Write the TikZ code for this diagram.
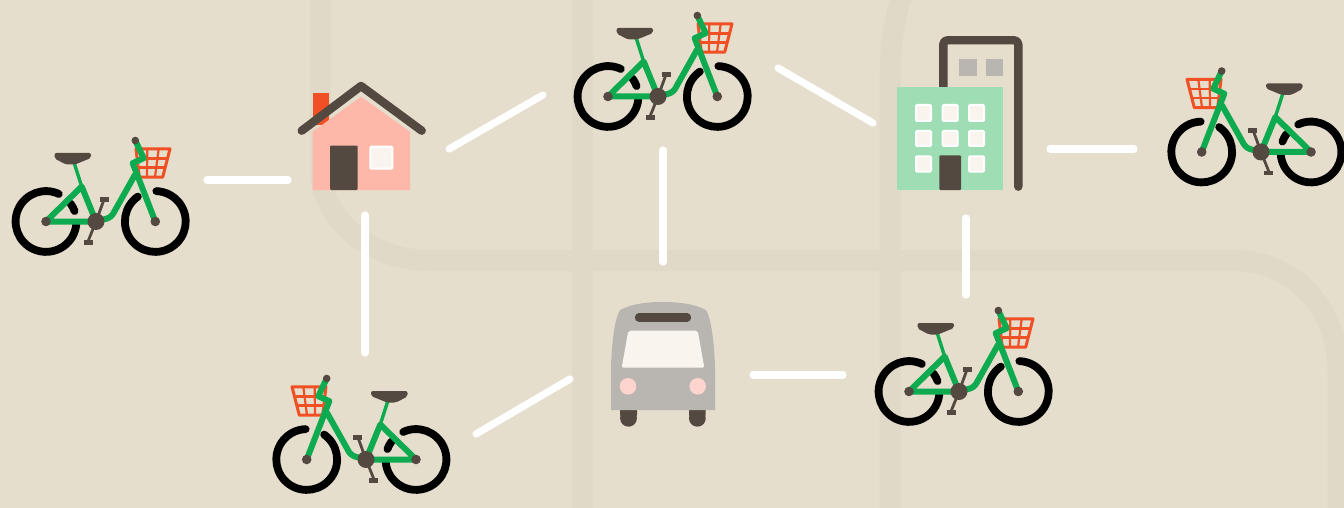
\documentclass[tikz,border=0pt]{standalone}
\usepackage{tikz}
\usetikzlibrary{positioning}
\definecolor{sandbg}{HTML}{E5DECC}
\definecolor{roadtone}{HTML}{E0D9C8}
\definecolor{framegreen}{HTML}{0DAA50}
\definecolor{darkbrown}{HTML}{534941}
\definecolor{redorange}{HTML}{F15025}
\definecolor{housepink}{HTML}{FDB8AA}
\definecolor{lamppink}{HTML}{FDD4CE}
\definecolor{mintgreen}{HTML}{9FDDB5}
\definecolor{busgray}{HTML}{B9B5B1}
\definecolor{creamy}{HTML}{F9F5EE}
\tikzset{
	roadline/.style={draw=roadtone, line width=10.5pt},
	linkline/.style={draw=white, line width=3.6pt, line cap=round},
	wheelline/.style={draw=black, line width=3.9pt, line cap=round},
	frameline/.style={draw=framegreen, line width=3pt, line join=round, line cap=round},
	basketline/.style={draw=redorange, line width=1.1pt},
	brownline/.style={draw=darkbrown, line width=4.2pt, line join=round, line cap=round},
	whitewindow/.style={fill=creamy, draw=white, line width=1pt, rounded corners=0.5pt}
}
\tikzset{
	bikeicon/.pic={
			% wheels
			\draw[wheelline] ([shift={(-50,0)}] -65:30.4) arc[start angle=-65, end angle=-354, radius=30.4];
			\draw[wheelline] ([shift={(-50,0)}] -36:30.4) arc[start angle=-36, end angle=-20, radius=30.4];
			\draw[wheelline] ([shift={(59.3,0)}] -125:30.4) arc[start angle=-125, end angle=-448, radius=30.4];
			% basket
			\draw[basketline, line width=1.5pt, line join=round] (40,-72.7) -- (74,-72.7) -- (66.7,-44.3) -- (43.3,-44.3) -- cycle;
			\draw[basketline] (41,-63) -- (71.5,-63);
			\draw[basketline] (42,-54) -- (69.2,-54);
			\draw[basketline] (51.3,-72.7) -- (51,-44.3);
			\draw[basketline] (62.7,-72.7) -- (59,-44.3);
			% pedals
			\draw[draw=darkbrown, line width=1.4pt] (8.3,-22.7) -- (0,0) -- (-8.3,20.7);
			\fill[darkbrown] (4,-24.3) rectangle (12.7,-19.3);
			\fill[darkbrown] (-12.3,18.7) rectangle (-3.3,23.3);
			% frame
			\draw[frameline, line width=1.7pt] (-14.3,-35) -- (-22.3,-60);
			\draw[frameline] (0,0) -- (-14.3,-35) -- (-50,0) -- cycle;
			\draw[frameline, rounded corners=2pt] (0,0) -- (15,-4) -- (39,-46.7);
			\draw[frameline] (59.3,0) -- (36.7,-58.3) -- (47.7,-63.3) -- (39.3,-81);
			% saddle, hubs
			\fill[darkbrown, rounded corners=1pt] (-41.5,-68.5) -- (-5,-68.5) -- (-5,-63.5) -- (-21,-57) -- (-30,-57) -- (-41.5,-63) -- cycle;
			\fill[darkbrown] (39.3,-81) circle[radius=3.8];
			\fill[darkbrown] (-50,0) circle[radius=4.8];
			\fill[darkbrown] (59.3,0) circle[radius=4.8];
			\fill[darkbrown] (0,0) circle[radius=8.5];
		}
}
\tikzset{
	houseicon/.pic={
			\fill[redorange] (-48.3,-46.7) rectangle (-32.3,-15);
			\fill[housepink] (-48.3,-8.3) -- (0,-43.3) -- (49,-8.3) -- (49,50) -- (-48.3,50) -- cycle;
			\draw[brownline] (-59.3,-9.3) -- (0,-54) -- (60.7,-9.3);
			\fill[darkbrown, rounded corners=0.5pt] (-31,5.7) rectangle (-3.3,50);
			\draw[whitewindow] (9.3,6.7) rectangle (31.3,28.7);
		}
}
\tikzset{
	officeicon/.pic={
			\draw[brownline, rounded corners=2pt] (-6.7,-28.3) -- (-6.7,-74.7) -- (68.3,-74.7) -- (68.3,71.7);
			\fill[busgray] (9.3,-56) rectangle (26.7,-38.7);
			\fill[busgray] (36,-56) rectangle (53.3,-38.7);
			\fill[mintgreen] (-52.7,-28.3) rectangle (53,75);
			\draw[whitewindow] (-34,-10) rectangle (-19,6);
			\draw[whitewindow] (-7.3,-10) rectangle (7.7,6);
			\draw[whitewindow] (19,-10) rectangle (34,6);
			\draw[whitewindow] (-34,16) rectangle (-19,31);
			\draw[whitewindow] (-7.3,16) rectangle (7.7,31);
			\draw[whitewindow] (19,16) rectangle (34,31);
			\draw[whitewindow] (-34,41.3) rectangle (-19,56.5);
			\draw[whitewindow] (19,41.3) rectangle (34,56.5);
			\fill[darkbrown, rounded corners=0.5pt] (-10.7,40.3) rectangle (11,75);
		}
}
\tikzset{
	busicon/.pic={
			\fill[darkbrown, rounded corners=3pt] (-43,45) rectangle (-26,60) ;
			\fill[darkbrown, rounded corners=3pt] (26,45) rectangle (42.7,60);
			\fill[darkbrown] (-34.5,58.3) circle[radius=8.4];
			\fill[darkbrown] (34.35,58.3) circle[radius=8.4];
			\fill[busgray] (-52,50) -- (-52,5) .. controls (-51,-15) and (-49,-40) .. (-43,-50)
			.. controls (-30,-57) and (-12,-58) .. (0,-58)
			.. controls (12,-58) and (30,-57) .. (43,-50)
			.. controls (49,-40) and (51,-15) .. (52,5) -- (52,50) -- cycle;
			\draw[brownline] (-24,-42.5) -- (24,-42.5);
			\fill[creamy, rounded corners=1pt] (-34.7,-29.3) -- (34.7,-29.3) -- (41.3,7.7) -- (-41.3,7.7) -- cycle;
			\fill[lamppink] (-35,26.3) circle[radius=8.3];
			\fill[lamppink] (34.7,26.3) circle[radius=8.3];
		}
}

\begin{document}
\begin{tikzpicture}[x=0.5pt, y=-0.5pt]

			\path[fill=sandbg, use as bounding box] (0,0) rectangle (1344,508);
			\clip (0,0) rectangle (1344,508);

			\begin{scope}
				\draw[roadline] (582,-10) -- (582,518);
				\draw[roadline] (890,518) -- (890,85) .. controls (890,50) and (893,20) .. (904,-10);
				\draw[roadline] (320,-10) -- (320,165) .. controls (320,220) and (370,260.5) .. (430,260.5) -- (1234,260.5)
				.. controls (1295,260.5) and (1338,310) .. (1338,370) -- (1338,518);
			\end{scope}

			\begin{scope}
				\coordinate (mA) at (96,221.5);
				\coordinate (mB) at (658,96.5);
				\coordinate (mC) at (1261,152);
				\coordinate (mD) at (959,391.5);
				\coordinate (mE) at (366,459.5);
				\coordinate (mHome) at (361,140);
				\coordinate (mOffice) at (950,115);
				\coordinate (mBus) at (663,360);

				\pic at (mA) {bikeicon};
				\pic at (mB) {bikeicon};
				\pic[xscale=-1] at (mC) {bikeicon};
				\pic at (mD) {bikeicon};
				\pic[xscale=-1] at (mE) {bikeicon};
				\pic at (mHome) {houseicon};
				\pic at (mOffice) {officeicon};
				\pic at (mBus) {busicon};
			\end{scope}

			\begin{scope}
				\coordinate (bikeAE) at (207,180);
				\coordinate (homeW) at (288,180);
				\coordinate (homeE) at (449,149);
				\coordinate (bikeBW) at (543,95);
				\coordinate (bikeBE) at (778,68);
				\coordinate (officeW) at (873,123);
				\coordinate (officeE) at (1050,149);
				\coordinate (bikeCW) at (1134,149);
				\coordinate (homeS) at (365,215);
				\coordinate (bikeEN) at (365,353);
				\coordinate (bikeBS) at (663,150);
				\coordinate (busN) at (663,262);
				\coordinate (officeS) at (966,218);
				\coordinate (bikeDN) at (966,295);
				\coordinate (bikeEE) at (476,434);
				\coordinate (busW) at (570,379);
				\coordinate (busE) at (753,375);
				\coordinate (bikeDW) at (843,375);

				\draw[linkline] (bikeAE) -- (homeW);
				\draw[linkline] (homeE) -- (bikeBW);
				\draw[linkline] (bikeBE) -- (officeW);
				\draw[linkline] (officeE) -- (bikeCW);
				\draw[linkline] (homeS) -- (bikeEN);
				\draw[linkline] (bikeBS) -- (busN);
				\draw[linkline] (officeS) -- (bikeDN);
				\draw[linkline] (bikeEE) -- (busW);
				\draw[linkline] (busE) -- (bikeDW);
			\end{scope}

		\end{tikzpicture}
\end{document}
